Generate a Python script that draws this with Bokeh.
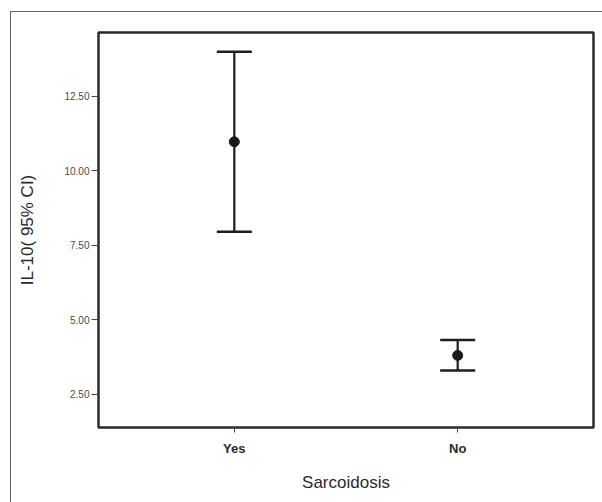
from bokeh.plotting import figure
from bokeh.models import ColumnDataSource, Whisker, TeeHead, FixedTicker, FactorRange, Range1d
from bokeh.embed import file_html
from bokeh.resources import INLINE

# Data
groups = ["Yes", "No"]
means = [10.97, 3.80]
ci_lower = [7.95, 3.29]
ci_upper = [13.99, 4.32]
y_ticks = [2.5, 5.0, 7.5, 10.0, 12.5]
y_tick_labels = ["2.50", "5.00", "7.50", "10.00", "12.50"]

src = ColumnDataSource(dict(group=groups, mean=means, lower=ci_lower, upper=ci_upper))

FONT = "Liberation Sans"

p = figure(
    width=592, height=491,
    x_range=FactorRange(factors=groups, range_padding=0.108),
    y_range=Range1d(1.38, 14.64),
    output_backend="svg", toolbar_location=None,
    min_border_left=87, min_border_top=20, min_border_right=10, min_border_bottom=76,
)
p.margin = (11, 0, 0, 10)
p.styles = {"border-left": "1px solid #666", "border-top": "1px solid #666"}

p.grid.visible = False
p.outline_line_color = "#2b2b2b"
p.outline_line_width = 2.5
p.background_fill_color = "white"
p.border_fill_color = "white"

whisk = Whisker(
    source=src, base="group", upper="upper", lower="lower", dimension="height",
    line_color="#1e1e1e", line_width=2.2,
    upper_head=TeeHead(size=35, line_color="#1e1e1e", line_width=2.5),
    lower_head=TeeHead(size=35, line_color="#1e1e1e", line_width=2.5),
)
p.add_layout(whisk)
p.scatter(x="group", y="mean", source=src, size=10, fill_color="#1a1a1a", line_color="#1a1a1a")

# Y axis
p.yaxis.ticker = FixedTicker(ticks=y_ticks)
p.yaxis.major_label_overrides = {t: l for t, l in zip(y_ticks, y_tick_labels)}
p.yaxis.minor_tick_line_color = None
p.yaxis.major_tick_in = 0
p.yaxis.major_tick_out = 7
p.yaxis.major_tick_line_color = "#444444"
p.yaxis.axis_line_color = None
p.yaxis.major_label_text_font = FONT
p.yaxis.major_label_text_font_size = "10px"
p.yaxis.major_label_text_color = "#4a4a4a"
p.yaxis.major_label_standoff = 2
p.yaxis.axis_label = "IL-10( 95% CI)"
p.yaxis.axis_label_text_font = FONT
p.yaxis.axis_label_text_font_style = "normal"
p.yaxis.axis_label_text_font_size = "17px"
p.yaxis.axis_label_text_color = "#2a2a2a"
p.yaxis.axis_label_standoff = 24

# X axis
p.xaxis.major_tick_in = 0
p.xaxis.major_tick_out = 5
p.xaxis.major_tick_line_color = "#444444"
p.xaxis.axis_line_color = None
p.xaxis.major_label_text_font = FONT
p.xaxis.major_label_text_font_style = "bold"
p.xaxis.major_label_text_font_size = "13px"
p.xaxis.major_label_text_color = "#2a2a2a"
p.xaxis.major_label_standoff = 8
p.xaxis.axis_label = "Sarcoidosis"
p.xaxis.axis_label_text_font = FONT
p.xaxis.axis_label_text_font_style = "normal"
p.xaxis.axis_label_text_font_size = "17px"
p.xaxis.axis_label_text_color = "#2a2a2a"
p.xaxis.axis_label_standoff = 14

open("out.html", "w").write(file_html(p, INLINE))
